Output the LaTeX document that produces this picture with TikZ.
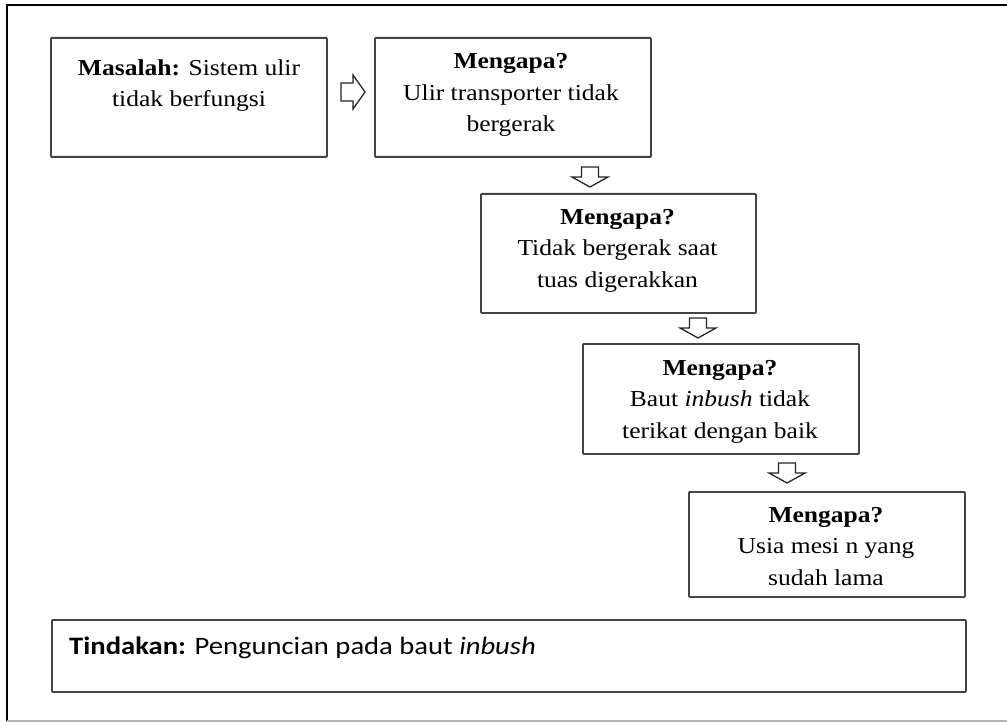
\documentclass[tikz,border=0pt]{standalone}
\usepackage{fontspec}
\setmainfont[FakeStretch=1.12]{Liberation Serif}
\newfontfamily\calibrifont[FakeStretch=1.14]{Carlito}
\newcommand\tallstrut{\rule{0pt}{20pt}}
\definecolor{boxline}{HTML}{444444}
\definecolor{framegray}{HTML}{B4B4B4}
\begin{document}
\begin{tikzpicture}[x=1pt,y=-1pt,
  whybox/.style={draw=boxline,line width=1.8pt,rounded corners=0.8pt,
    inner sep=0pt,anchor=north west},
  whytext/.style={align=center,anchor=north,inner sep=0pt,
    font=\fontsize{22.8}{31.5}\selectfont},
  blockarrow/.style={draw=black!85,line width=1.3pt,fill=white,line join=miter},
  pics/downarr/.style={code={
    \draw[blockarrow] (-8.5,0) -- (8.5,0) -- (8.5,10) -- (18,10) -- (0,20)
      -- (-18,10) -- (-8.5,10) -- cycle;}},
  pics/rightarr/.style={code={
    \draw[blockarrow] (0,-9) -- (12,-9) -- (12,-17) -- (24,0) -- (12,17)
      -- (12,9) -- (0,9) -- cycle;}}]
\useasboundingbox (0,0) rectangle (1007,722);

% outer frame
\draw[line width=1.5pt,black] (7,721) -- (7,5) -- (1007,5);
\draw[line width=1.5pt,framegray] (7,721) -- (1007,721);

% boxes
\node[whybox,minimum width=276pt,minimum height=119pt] (masalah) at (50,37) {};
\node[whybox,minimum width=276pt,minimum height=119pt] (why1) at (374,37) {};
\node[whybox,minimum width=275pt,minimum height=119pt] (why2) at (480,193) {};
\node[whybox,minimum width=276pt,minimum height=110pt] (why3) at (582,343) {};
\node[whybox,minimum width=276pt,minimum height=105pt] (why4) at (688,491) {};
\node[whybox,minimum width=914pt,minimum height=72pt] (tindakan) at (51,619) {};

% texts
\node[whytext] (tmasalah) at (189,55) {\tallstrut\textbf{Masalah:} Sistem ulir\\tidak berfungsi};
\node[whytext] (twhy1) at (511,48.5) {\tallstrut\textbf{Mengapa?}\\Ulir transporter tidak\\bergerak};
\node[whytext] (twhy2) at (617.5,204) {\tallstrut\textbf{Mengapa?}\\Tidak bergerak saat\\tuas digerakkan};
\node[whytext] (twhy3) at (720,355) {\tallstrut\textbf{Mengapa?}\\Baut \textit{inbush} tidak\\terikat dengan baik};
\node[whytext] (twhy4) at (826,502) {\tallstrut\textbf{Mengapa?}\\Usia mesi n yang\\sudah lama};
\node[anchor=base west,inner sep=0pt,font=\calibrifont\fontsize{25.1}{29}\selectfont]
  (ttindakan) at (69,654) {\textbf{Tindakan:} Penguncian pada baut \textit{inbush}};

% block arrows between the boxes
\coordinate (a0) at (341,92);
\coordinate (a1) at (590,167);
\coordinate (a2) at (698,318);
\coordinate (a3) at (787,463);
\pic at (a0) {rightarr};
\pic at (a1) {downarr};
\pic at (a2) {downarr};
\pic at (a3) {downarr};
\end{tikzpicture}
\end{document}
